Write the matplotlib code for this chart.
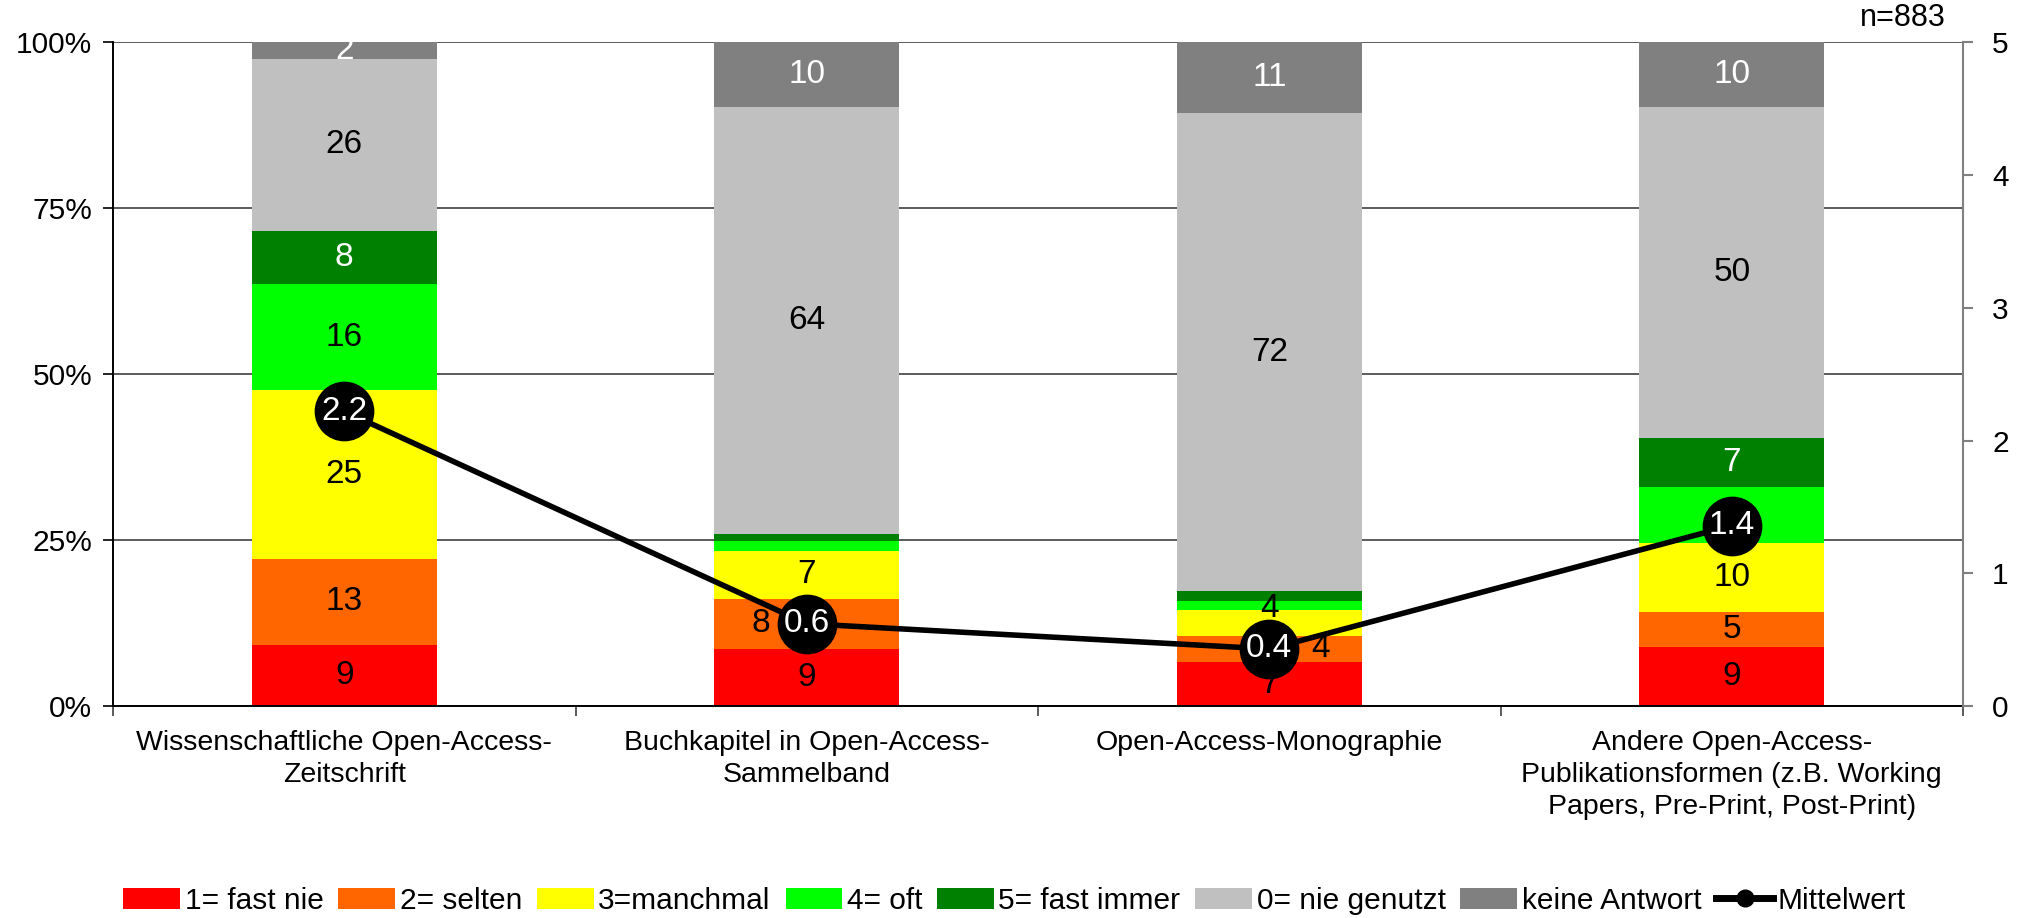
import matplotlib
matplotlib.use("Agg")
import matplotlib.pyplot as plt
from matplotlib.patches import Patch
from matplotlib.lines import Line2D

plt.rcParams["font.family"] = ["Liberation Sans", "DejaVu Sans"]

categories = [
    "Wissenschaftliche Open-Access-\nZeitschrift",
    "Buchkapitel in Open-Access-\nSammelband",
    "Open-Access-Monographie",
    "Andere Open-Access-\nPublikationsformen (z.B. Working\nPapers, Pre-Print, Post-Print)",
]

answer_labels = ["1= fast nie", "2= selten", "3=manchmal", "4= oft",
                 "5= fast immer", "0= nie genutzt", "keine Antwort"]

# shares in percent, one list per answer, one entry per category
fast_nie = [9.2, 8.6, 6.6, 8.9]
selten = [13.0, 7.6, 4.0, 5.3]
manchmal = [25.4, 7.1, 3.9, 10.4]
oft = [16.0, 1.6, 1.4, 8.4]
fast_immer = [8.0, 1.0, 1.4, 7.4]
nie_genutzt = [25.9, 64.4, 72.0, 49.9]
keine_antwort = [2.5, 9.7, 10.7, 9.7]

mittelwert = [2.22, 0.62, 0.43, 1.36]
sample_size = 883

series = [fast_nie, selten, manchmal, oft, fast_immer, nie_genutzt, keine_antwort]
colors = ["#FF0000", "#FF6600", "#FFFF00", "#00FF00", "#008000", "#C0C0C0", "#808080"]
text_colors = ["black", "black", "black", "black", "white", "black", "white"]

# a few labels are nudged so the mean markers don't hide them (points),
# keyed by (category, answer)
label_nudges = {(1, 1): (-33, 0), (2, 1): (37, 0), (2, 2): (0, 10)}

fig = plt.figure(figsize=(20.29, 9.18), dpi=100)
ax = fig.add_axes([0.0557, 0.2309, 0.9118, 0.723])

x_positions = list(range(len(categories)))
bar_width = 0.4
bottoms = [0.0] * len(categories)
for answer_number, values in enumerate(series):
    fractions = [v / 100 for v in values]
    ax.bar(x_positions, fractions, bar_width, bottom=bottoms,
           color=colors[answer_number], linewidth=0, zorder=2)
    for column, value in enumerate(values):
        if value >= 2.5:
            center = bottoms[column] + value / 200
            nudge = label_nudges.get((column, answer_number), (0, 0))
            label = ax.annotate(f"{value:.0f}", (column, center), xytext=nudge,
                                textcoords="offset points", ha="center", va="center",
                                fontsize=24, color=text_colors[answer_number], zorder=3)
            label.set_clip_on(True)
    bottoms = [b + f for b, f in zip(bottoms, fractions)]

ax.set_xlim(-0.5, len(categories) - 0.5)
ax.set_ylim(0, 1)
ax.set_yticks([0, 0.25, 0.5, 0.75, 1.0])
ax.set_yticklabels(["0%", "25%", "50%", "75%", "100%"], fontsize=21.5)
ax.yaxis.grid(True, color="#404040", linewidth=1.2, zorder=0)
ax.set_axisbelow(True)
ax.tick_params(axis="y", length=7, width=1.2, direction="out", pad=8)

ax.set_xticks([-0.5, 0.5, 1.5, 2.5, 3.5])
ax.set_xticklabels([])
ax.set_xticks(x_positions, minor=True)
ax.set_xticklabels(categories, minor=True, fontsize=20.5, linespacing=1.3)
ax.tick_params(axis="x", which="major", length=7, width=1.2, color="#404040")
ax.tick_params(axis="x", which="minor", length=0, pad=17)

for side in ["top", "right"]:
    ax.spines[side].set_visible(False)
ax.spines["left"].set_linewidth(1.4)
ax.spines["bottom"].set_linewidth(1.4)

# mean values on a second axis (0-5)
mean_ax = ax.twinx()
mean_ax.set_ylim(0, 5)
mean_ax.plot(x_positions, mittelwert, color="black", linewidth=4,
             marker="o", markersize=42, zorder=4)
for column, value in enumerate(mittelwert):
    mean_ax.text(column, value, f"{value:.1f}", ha="center", va="center",
                 fontsize=24, color="white", zorder=5)
mean_ax.set_yticks([0, 1, 2, 3, 4, 5])
mean_ax.tick_params(axis="y", length=7, width=1.5, color="#808080",
                    labelsize=21.5, pad=14)
for side in ["top", "left", "bottom"]:
    mean_ax.spines[side].set_visible(False)
mean_ax.spines["right"].set_color("#808080")
mean_ax.spines["right"].set_linewidth(1.5)

fig.text(0.959, 0.98, f"n={sample_size}", ha="right", va="center", fontsize=22)

handles = [Patch(facecolor=c, edgecolor="none") for c in colors]
handles.append(Line2D([], [], color="black", linewidth=5, marker="o", markersize=12))
fig.legend(handles, answer_labels + ["Mittelwert"], loc="center",
           bbox_to_anchor=(0.5, 0.019), ncol=8, frameon=False, fontsize=21.5,
           handlelength=1.9, handleheight=0.7, handletextpad=0.15,
           columnspacing=0.5)

fig.savefig("out.png", dpi=100)
